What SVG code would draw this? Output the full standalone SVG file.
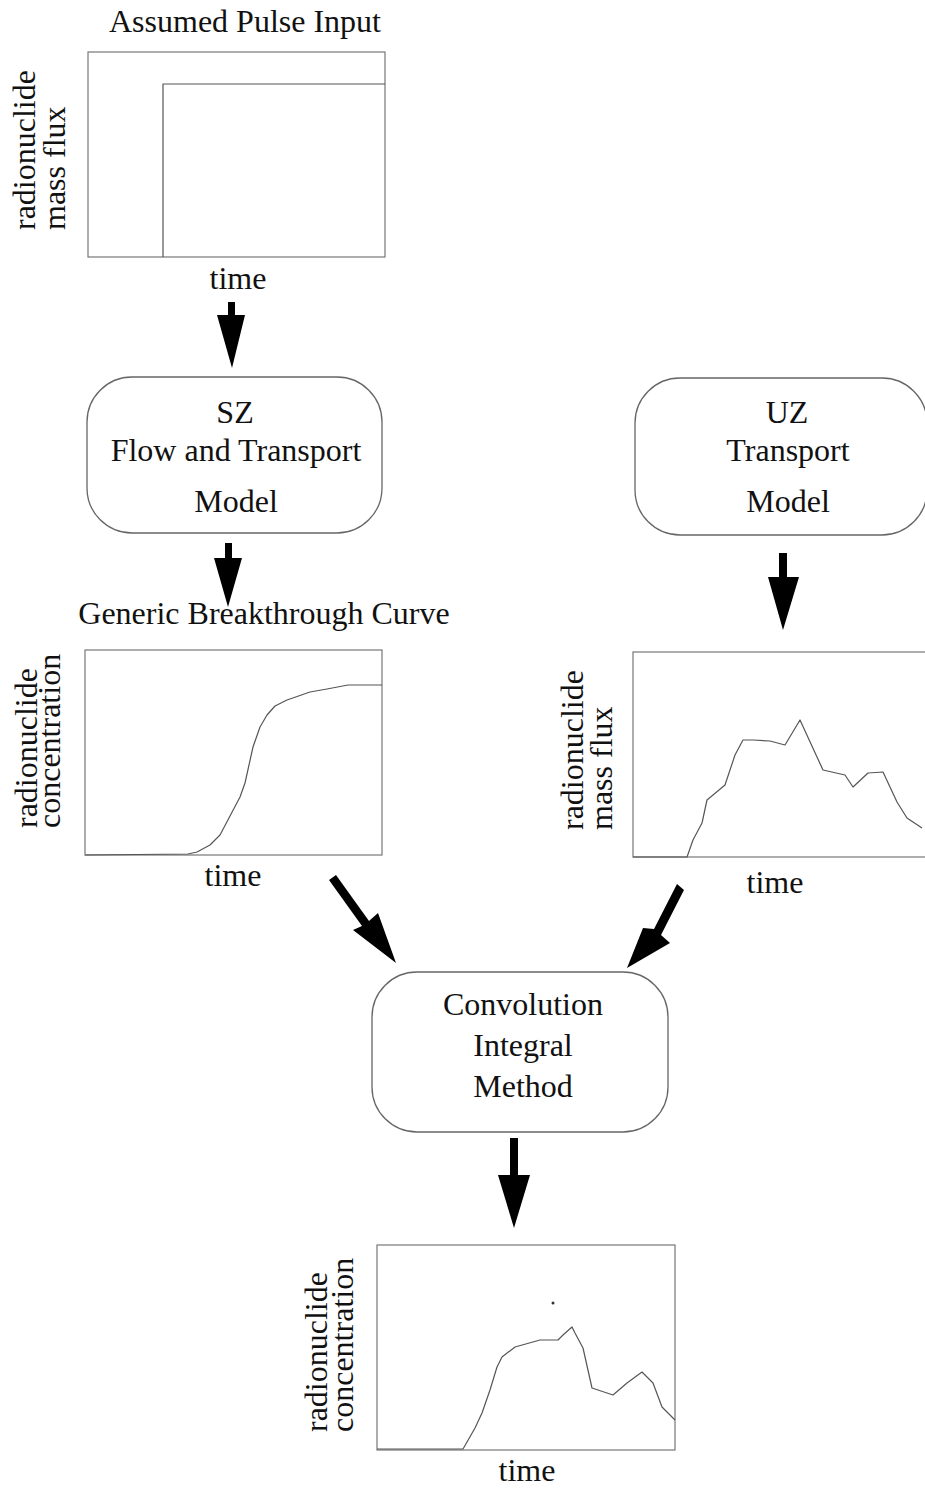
<svg xmlns="http://www.w3.org/2000/svg" width="925" height="1491" viewBox="0 0 925 1491">
<style>
text{font-family:"Liberation Serif","Times New Roman",serif;font-size:32px;fill:#111}
.c{text-anchor:middle}
.frame{fill:none;stroke:#777;stroke-width:1.2}
.box{fill:none;stroke:#666;stroke-width:1.3}
.curve{fill:none;stroke:#555;stroke-width:1.2;stroke-linejoin:round}
.arrow{fill:#000;stroke:none}
</style>
<rect width="925" height="1491" fill="#fff"/>

<g id="pulse-plot">
<text class="c" x="245" y="32">Assumed Pulse Input</text>
<rect class="frame" x="88" y="52" width="297" height="205"/>
<polyline class="curve" points="163,257 163,84 385,84"/>
<text transform="translate(35,230) rotate(-90)">radionuclide</text>
<text transform="translate(65,230) rotate(-90)">mass flux</text>
<text class="c" x="238" y="289">time</text>
</g>

<g id="sz-model">
<rect class="box" x="87" y="377" width="295" height="156" rx="45" ry="45"/>
<text class="c" x="235" y="423">SZ</text>
<text class="c" x="236" y="461">Flow and Transport</text>
<text class="c" x="236" y="512">Model</text>
</g>

<g id="uz-model">
<rect class="box" x="635" y="378" width="292" height="157" rx="45" ry="45"/>
<text class="c" x="787" y="423">UZ</text>
<text class="c" x="788" y="461">Transport</text>
<text class="c" x="788" y="512">Model</text>
</g>

<g id="breakthrough-plot">
<text class="c" x="264" y="624">Generic Breakthrough Curve</text>
<rect class="frame" x="85" y="650" width="297" height="205"/>
<polyline class="curve" points="85,855 188,854 197,852 210,845 220,835 240,797 245,783 253,747 260,727 267,715 275,706 287,700 310,692 327,689 348,685 382,685"/>
<text transform="translate(37,828) rotate(-90)">radionuclide</text>
<text transform="translate(60,828) rotate(-90)">concentration</text>
<text class="c" x="233" y="886">time</text>
</g>

<g id="uz-plot">
<rect class="frame" x="633" y="652" width="300" height="205"/>
<polyline class="curve" points="633,857 687,857 693,840 702,823 707,800 713,795 725,785 735,755 743,740 753,740 770,741 785,745 800,720 817,757 823,770 845,775 853,787 868,773 883,772 897,802 907,818 922,828"/>
<text transform="translate(583,830) rotate(-90)">radionuclide</text>
<text transform="translate(612,830) rotate(-90)">mass flux</text>
<text class="c" x="775" y="893">time</text>
</g>

<g id="convolution">
<rect class="box" x="372" y="972" width="296" height="160" rx="45" ry="45"/>
<text class="c" x="523" y="1015">Convolution</text>
<text class="c" x="523" y="1056">Integral</text>
<text class="c" x="523" y="1097">Method</text>
</g>

<g id="result-plot">
<rect class="frame" x="377" y="1245" width="298" height="205"/>
<polyline class="curve" points="377,1449 463,1449 475,1428 482,1413 490,1390 497,1367 502,1357 515,1347 540,1340 558,1340 563,1335 572,1327 575,1333 583,1348 592,1388 613,1395 627,1383 642,1372 653,1383 662,1407 675,1420"/>
<circle cx="553" cy="1303" r="1.5" fill="#333"/>
<text transform="translate(327,1432) rotate(-90)">radionuclide</text>
<text transform="translate(353,1432) rotate(-90)">concentration</text>
<text class="c" x="527" y="1481">time</text>
</g>

<g id="connectors">
<polygon class="arrow" points="228,302 235,302 235,315 245,315 232,368 217,315 228,315"/>
<polygon class="arrow" points="225,543 232,543 232,558 242,558 228,607 214,558 225,558"/>
<polygon class="arrow" points="779,553 787,553 787,577 799,577 783,630 768,577 779,577"/>
<polygon class="arrow" points="329,880 336,875 369,921 378,913 396,963 353,930 362,926"/>
<polygon class="arrow" points="677,884 684,890 661,935 670,943 627,968 643,928 654,929"/>
<polygon class="arrow" points="510,1138 518,1138 518,1175 530,1175 514,1228 498,1175 510,1175"/>
</g>
</svg>
